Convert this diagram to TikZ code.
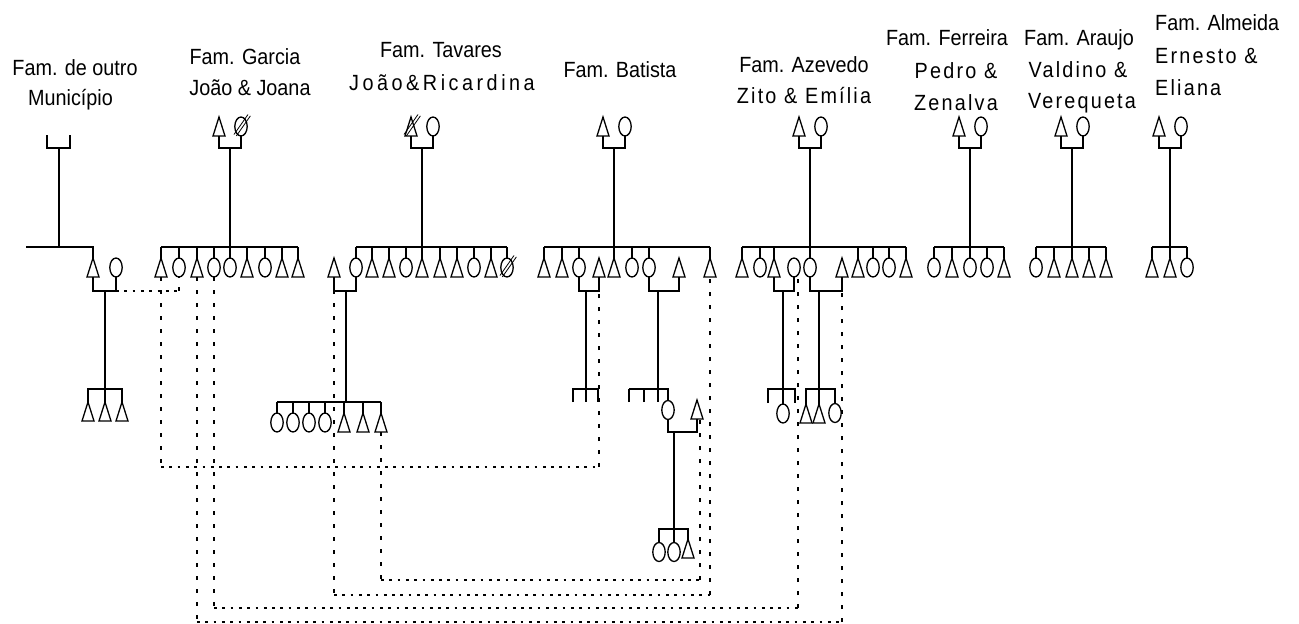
\documentclass[tikz,border=0pt]{standalone}
\usepackage{fontspec}
\newfontfamily\labfont[FakeStretch=0.9]{Liberation Sans}
\newfontfamily\labfontsp[FakeStretch=0.9,LetterSpace=10]{Liberation Sans}
\newfontfamily\labfontspp[FakeStretch=0.9,LetterSpace=16]{Liberation Sans}
\usetikzlibrary{calc}
\newcommand\Msym[3]{\pic (#1) at (#2,#3) {male};}
\newcommand\Fsym[3]{\pic (#1) at (#2,#3) {fem};}
\newcommand\Drop[2]{\draw[ln] (#1-t) -- (#1-t |- #2);}
\newcommand\Dec[1]{\draw[line width=0.8pt] ([shift={(-7,8)}]#1-c) -- ([shift={(7,-12)}]#1-c);
  \draw[line width=0.8pt] ([shift={(-4.6,9.4)}]#1-c) -- ([shift={(9.4,-10.6)}]#1-c);}
\begin{document}
\begin{tikzpicture}[x=1pt,y=-1pt,
  ln/.style={line width=1.2pt},
  sym/.style={line width=1.3pt, line join=miter},
  hdot/.style={line width=1.8pt, dash pattern=on 2.7pt off 5.6pt},
  vdot/.style={line width=1.8pt, dash pattern=on 4pt off 9pt},
  lab/.style={font={\labfont\fontsize{22}{26}\selectfont}, inner sep=0pt, anchor=base},
  labsp/.style={font={\labfontsp\fontsize{22}{26}\selectfont}, inner sep=0pt, anchor=base},
  labspp/.style={font={\labfontspp\fontsize{22}{26}\selectfont}, inner sep=0pt, anchor=base},
  male/.pic={\draw[sym] (-6,9.5) -- (0,-9.5) -- (6,9.5) -- cycle;
    \coordinate (-t) at (0,-9.5); \coordinate (-b) at (0,9.5); \coordinate (-c) at (0,0);},
  fem/.pic={\draw[sym] (0,0) ellipse [x radius=6.2, y radius=9.5];
    \coordinate (-t) at (0,-9.5); \coordinate (-b) at (0,9.5); \coordinate (-c) at (0,0);}
]
\useasboundingbox (0,0) rectangle (1299,624);

% ---------------- texts
\node[lab] (tOutro1) at (75,75) {Fam. de outro};
\node[lab] (tOutro2) at (70.5,105) {Município};
\node[lab] (tGar1) at (245,64) {Fam. Garcia};
\node[lab] (tGar2) at (250,95) {João \& Joana};
\node[lab] (tTav1) at (441,57) {Fam. Tavares};
\node[labspp] (tTav2) at (442,90) {João\&Ricardina};
\node[lab] (tBat) at (620,77) {Fam. Batista};
\node[lab] (tAze1) at (804,72) {Fam. Azevedo};
\node[labsp] (tAze2) at (804,103) {Zito \& Emília};
\node[lab] (tFer1) at (947,45) {Fam. Ferreira};
\node[labsp] (tFer2) at (956,78) {Pedro \&};
\node[labsp] (tFer3) at (956,110) {Zenalva};
\node[lab] (tAra1) at (1079,45) {Fam. Araujo};
\node[labsp] (tAra2) at (1078,77) {Valdino \&};
\node[labsp] (tAra3) at (1082,108) {Verequeta};
\node[lab, anchor=base west] (tAlm1) at (1155,30) {Fam. Almeida};
\node[labsp, anchor=base west] (tAlm2) at (1155,63) {Ernesto \&};
\node[labsp, anchor=base west] (tAlm3) at (1155,95) {Eliana};

% ---------------- Fam. de outro Municipio
\coordinate (oL) at (47,135);
\coordinate (oR) at (70,135);
\coordinate (oJ) at (59,148);
\coordinate (oBar) at (26,247);
\draw[ln] (oL) |- (oJ) -| (oR);
\draw[ln] (oJ) -- (oJ |- oBar);
\Msym{o1}{93}{267.5}
\Fsym{o2}{116}{267.5}
\draw[ln] (oBar) -| (o1-t);
\coordinate (oC) at (105,291);
\draw[ln] (o1-b) |- (oC) -| (o2-b);
\coordinate (oLow) at (105,389);
\Msym{o3}{88}{411.5} \Msym{o4}{105}{411.5} \Msym{o5}{122}{411.5}
\draw[ln] (oC) -- (o4-t);
\draw[ln] (o3-t) |- (oLow) -| (o5-t);

% ---------------- Fam. Garcia
\Msym{gf}{219}{126.5} \Fsym{gm}{241}{126.5} \Dec{gm}
\coordinate (gJ) at (230,148); \coordinate (gBar) at (230,247);
\draw[ln] (gf-b) |- (gJ) -| (gm-b);
\draw[ln] (gJ) -- (gBar);
\Msym{g1}{161}{267.5} \Fsym{g2}{179}{267.5} \Msym{g3}{197}{267.5}
\Fsym{g4}{214}{267.5} \Fsym{g5}{230}{267.5} \Msym{g6}{247}{267.5}
\Fsym{g7}{265}{267.5} \Msym{g8}{282}{267.5} \Msym{g9}{298}{267.5}
\draw[ln] (g1-t |- gBar) -- (g9-t |- gBar);
\foreach \c in {g1,g2,g3,g4,g5,g6,g7,g8,g9} {\Drop{\c}{gBar}}

% ---------------- Fam. Tavares
\Msym{tf}{411}{126.5} \Fsym{tm}{433}{126.5} \Dec{tf}
\coordinate (tJ) at (422,148); \coordinate (tBar) at (422,247);
\draw[ln] (tf-b) |- (tJ) -| (tm-b);
\draw[ln] (tJ) -- (tBar);
\Msym{t0}{334}{267.5}
\Fsym{t1}{356}{267.5} \Msym{t2}{372}{267.5} \Msym{t3}{389}{267.5}
\Fsym{t4}{406}{267.5} \Msym{t5}{422}{267.5} \Msym{t6}{440}{267.5}
\Msym{t7}{457}{267.5} \Fsym{t8}{474}{267.5} \Msym{t9}{491}{267.5}
\Fsym{t10}{507}{267.5} \Dec{t10}
\draw[ln] (t1-t |- tBar) -- (t10-t |- tBar);
\foreach \c in {t1,t2,t3,t4,t5,t6,t7,t8,t9,t10} {\Drop{\c}{tBar}}
\coordinate (tC) at (346,291);
\draw[ln] (t0-b) |- (tC) -| (t1-b);
\coordinate (tLow) at (346,402);
\Fsym{tl1}{277}{422.5} \Fsym{tl2}{293}{422.5} \Fsym{tl3}{309}{422.5}
\Fsym{tl4}{325}{422.5} \Msym{tl5}{344}{422.5} \Msym{tl6}{363}{422.5}
\Msym{tl7}{381}{422.5}
\draw[ln] (tC) -- (tLow);
\draw[ln] (tl1-t |- tLow) -- (tl7-t |- tLow);
\foreach \c in {tl1,tl2,tl3,tl4,tl5,tl6,tl7} {\Drop{\c}{tLow}}

% ---------------- Fam. Batista
\Msym{bf}{603}{126.5} \Fsym{bm}{625}{126.5}
\coordinate (bJ) at (614,148); \coordinate (bBar) at (614,247);
\draw[ln] (bf-b) |- (bJ) -| (bm-b);
\draw[ln] (bJ) -- (bBar);
\Msym{b1}{544}{267.5} \Msym{b2}{562}{267.5} \Fsym{b3}{579}{267.5}
\Msym{b4}{599}{267.5} \Msym{b5}{614}{267.5} \Fsym{b6}{632}{267.5}
\Fsym{b7}{649}{267.5} \Msym{b8}{679}{267.5} \Msym{b9}{710}{267.5}
\draw[ln] (b1-t |- bBar) -- (b9-t |- bBar);
\foreach \c in {b1,b2,b3,b5,b6,b7,b9} {\Drop{\c}{bBar}}
% couple b3-b4
\coordinate (bC1) at (586,291);
\draw[ln] (b3-b) |- (bC1) -| (b4-b);
\coordinate (bL1) at (586,389);
\coordinate (bL1a) at (573,402); \coordinate (bL1b) at (586,402); \coordinate (bL1c) at (598,402);
\draw[ln] (bC1) -- (bL1b);
\draw[ln] (bL1a) |- (bL1) -| (bL1c);
% couple b7-b8
\coordinate (bC2) at (658,291);
\draw[ln] (b7-b) |- (bC2) -| (b8-b);
\coordinate (bL2) at (658,389);
\coordinate (bL2a) at (629,402); \coordinate (bL2m) at (644,402); \coordinate (bL2b) at (658,402);
\Fsym{bb1}{668}{410} \Msym{bb2}{697}{409.5}
\draw[ln] (bC2) -- (bL2b);
\draw[ln] (bL2a |- bL2) -| (bb1-t);
\draw[line width=2pt] (bL2a) -- (bL2a |- bL2);
\draw[ln] (bL2m) -- (bL2m |- bL2);
\coordinate (bC3) at (674,432);
\draw[ln] (bb1-b) |- (bC3) -| (bb2-b);
\coordinate (bGb) at (674,529);
\Fsym{bg1}{659}{552} \Fsym{bg2}{674}{552} \Msym{bg3}{688}{548.5}
\draw[ln] (bC3) -- (bg2-t);
\draw[ln] (bg1-t) |- (bGb) -| (bg3-t);

% ---------------- Fam. Azevedo
\Msym{af}{799}{126.5} \Fsym{am}{821}{126.5}
\coordinate (aJ) at (810,148); \coordinate (aBar) at (810,247);
\draw[ln] (af-b) |- (aJ) -| (am-b);
\draw[ln] (aJ) -- (aBar);
\Msym{a1}{742}{267.5} \Fsym{a2}{760}{267.5} \Msym{a3}{774}{267.5}
\Fsym{a4}{794}{267.5} \Fsym{a5}{810}{267.5} \Msym{a6}{842}{267.5}
\Msym{a7}{858}{267.5} \Fsym{a8}{873}{267.5} \Fsym{a9}{889}{267.5}
\Msym{a10}{906}{267.5}
\draw[ln] (a1-t |- aBar) -- (a10-t |- aBar);
\foreach \c in {a1,a2,a3,a5,a7,a8,a9,a10} {\Drop{\c}{aBar}}
% couple a3-a4
\coordinate (aC1) at (783,291);
\draw[ln] (a3-b) |- (aC1) -| (a4-b);
\coordinate (aL1) at (783,389);
\coordinate (aL1a) at (768,403); \coordinate (aL1c) at (795,403);
\Fsym{al}{783}{413.5}
\draw[ln] (aC1) -- (al-t);
\draw[ln] (aL1a) |- (aL1) -| (aL1c);
% couple a5-a6
\coordinate (aC2) at (819,291);
\draw[ln] (a5-b) |- (aC2) -| (a6-b);
\coordinate (aL2) at (819,389);
\Msym{am1}{806}{413.5} \Msym{am2}{819}{413.5} \Fsym{am3}{835}{413}
\draw[ln] (aC2) -- (am2-t);
\draw[ln] (am1-t) |- (aL2) -| (am3-t);

% ---------------- Fam. Ferreira
\Msym{ff}{959}{126.5} \Fsym{fm}{981}{126.5}
\coordinate (fJ) at (970,148); \coordinate (fBar) at (970,247);
\draw[ln] (ff-b) |- (fJ) -| (fm-b);
\draw[ln] (fJ) -- (fBar);
\Fsym{f1}{934}{267.5} \Msym{f2}{952}{267.5} \Fsym{f3}{970}{267.5}
\Fsym{f4}{987}{267.5} \Msym{f5}{1004}{267.5}
\draw[ln] (f1-t |- fBar) -- (f5-t |- fBar);
\foreach \c in {f1,f2,f3,f4,f5} {\Drop{\c}{fBar}}

% ---------------- Fam. Araujo
\Msym{rf}{1061}{126.5} \Fsym{rm}{1083}{126.5}
\coordinate (rJ) at (1072,148); \coordinate (rBar) at (1072,247);
\draw[ln] (rf-b) |- (rJ) -| (rm-b);
\draw[ln] (rJ) -- (rBar);
\Fsym{r1}{1036}{267.5} \Msym{r2}{1054}{267.5} \Msym{r3}{1072}{267.5}
\Msym{r4}{1089}{267.5} \Msym{r5}{1106}{267.5}
\draw[ln] (r1-t |- rBar) -- (r5-t |- rBar);
\foreach \c in {r1,r2,r3,r4,r5} {\Drop{\c}{rBar}}

% ---------------- Fam. Almeida
\Msym{lf}{1159}{126.5} \Fsym{lm}{1181}{126.5}
\coordinate (lJ) at (1170,148); \coordinate (lBar) at (1170,247);
\draw[ln] (lf-b) |- (lJ) -| (lm-b);
\draw[ln] (lJ) -- (lBar);
\Msym{l1}{1152}{267.5} \Msym{l2}{1170}{267.5} \Fsym{l3}{1187}{267.5}
\draw[ln] (l1-t |- lBar) -- (l3-t |- lBar);
\foreach \c in {l1,l2,l3} {\Drop{\c}{lBar}}

% ---------------- dotted marriage links
\coordinate (yA) at (0,467);
\coordinate (yB) at (0,622);
\coordinate (yC) at (0,608);
\coordinate (yD) at (0,595);
\coordinate (yE) at (0,580);
\coordinate (a4x) at (798,278);
\coordinate (bbx) at (700,420);
% outro - Garcia
\draw[hdot] (oC -| o2-b) -- (oC -| g2-b);
\draw[vdot] (oC -| g2-b) -- (g2-b);
% Garcia g1 - Batista b4
\draw[vdot] (g1-b) -- (g1-b |- yA);
\draw[hdot] (g1-b |- yA) -- (b4-b |- yA);
\draw[vdot] (b4-b |- yA) -- (b4-b);
% Garcia g3 - Azevedo a6
\draw[vdot] (g3-b) -- (g3-b |- yB);
\draw[hdot] (g3-b |- yB) -- (a6-b |- yB);
\draw[vdot] (a6-b |- yB) -- (a6-b);
% Garcia g4 - Azevedo a4
\draw[vdot] (g4-b) -- (g4-b |- yC);
\draw[hdot] (g4-b |- yC) -- (a4x |- yC);
\draw[vdot] (a4x |- yC) -- (a4x);
% Tavares t0 - Batista b9
\draw[vdot] (t0-b) -- (t0-b |- yD);
\draw[hdot] (t0-b |- yD) -- (b9-b |- yD);
\draw[vdot] (b9-b |- yD) -- (b9-b);
% Tavares tl7 - Batista bb2
\draw[vdot] (tl7-b) -- (tl7-b |- yE);
\draw[hdot] (tl7-b |- yE) -- (bbx |- yE);
\draw[vdot] (bbx |- yE) -- (bbx);
\end{tikzpicture}
\end{document}
